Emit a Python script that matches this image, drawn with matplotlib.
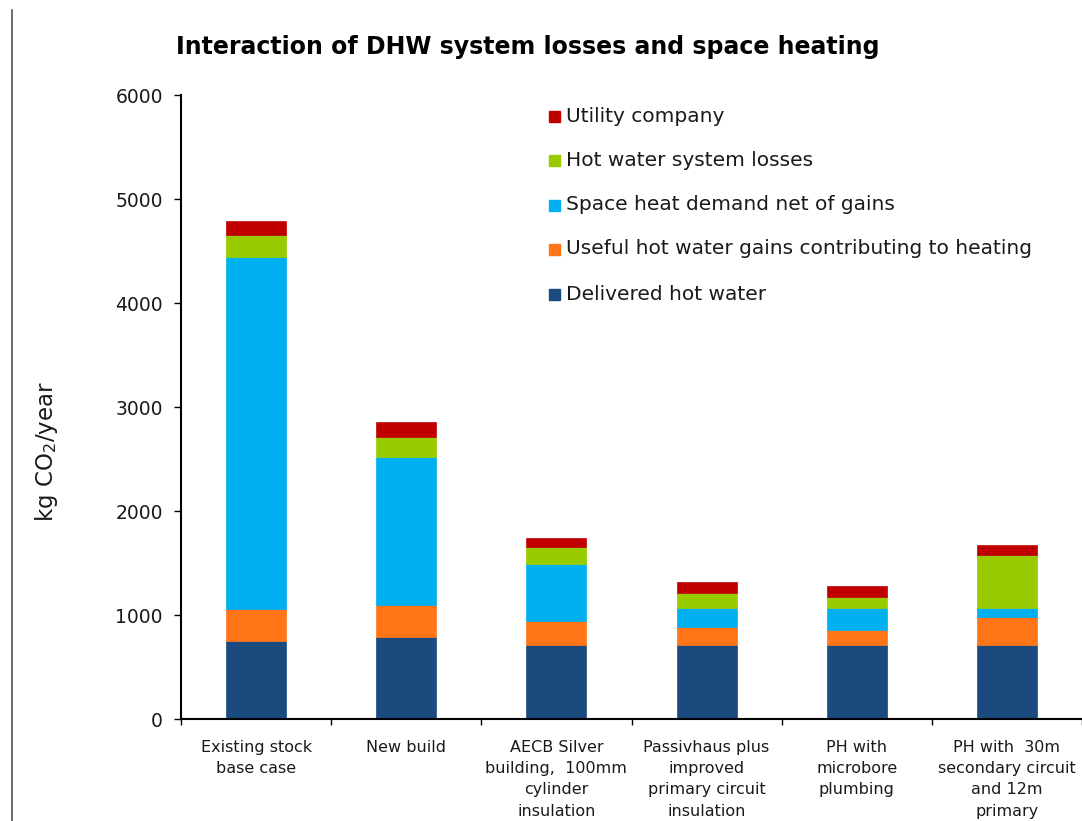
import matplotlib.pyplot as plt
import numpy as np
from matplotlib.lines import Line2D

plt.rcParams['font.family'] = ['DejaVu Sans']

categories = [
    "Existing stock\nbase case",
    "New build",
    "AECB Silver\nbuilding,  100mm\ncylinder\ninsulation",
    "Passivhaus plus\nimproved\nprimary circuit\ninsulation",
    "PH with\nmicrobore\nplumbing",
    "PH with  30m\nsecondary circuit\nand 12m\nprimary",
]

delivered_hot_water = [753, 788, 712, 712, 712, 712]
useful_gains = [302, 305, 230, 169, 141, 269]
space_heat = [3384, 1423, 552, 183, 211, 86]
hw_system_losses = [215, 198, 157, 151, 112, 510]
utility_company = [137, 139, 89, 102, 103, 93]

series = [
    ("Delivered hot water", delivered_hot_water, "#1a4a7e"),
    ("Useful hot water gains contributing to heating", useful_gains, "#ff7518"),
    ("Space heat demand net of gains", space_heat, "#00b0f0"),
    ("Hot water system losses", hw_system_losses, "#99cc00"),
    ("Utility company", utility_company, "#c00000"),
]

W, H = 1082, 821
fig = plt.figure(figsize=(W / 100, H / 100), dpi=100)
ax = fig.add_axes([181 / W, 1 - 719 / H, 901 / W, (719 - 95) / H])

x = np.arange(len(categories))
bottom = np.zeros(len(categories))
for name, vals, col in series:
    ax.bar(x, vals, width=0.4, bottom=bottom, color=col, edgecolor=col,
           linewidth=0.5)
    bottom += np.array(vals)

ax.set_xlim(-0.5, len(categories) - 0.5)
ax.set_ylim(0, 6000)
ax.set_yticks(range(0, 6001, 1000))
ax.tick_params(axis='y', labelsize=13.5, length=5, width=1, direction='out',
               pad=8, labelcolor='#1a1a1a')
ax.set_xticks(np.arange(-0.5, len(categories), 1.0))
ax.set_xticklabels([])
ax.tick_params(axis='x', length=4, width=1, direction='out')
for i, lab in enumerate(categories):
    ax.text(i, -200, lab, ha='center', va='top', fontsize=11.5,
            color='#1a1a1a', linespacing=1.52)

for s in ['top', 'right']:
    ax.spines[s].set_visible(False)
ax.spines['left'].set_linewidth(1.5)
ax.spines['bottom'].set_linewidth(1.5)

fig.text(46 / W, 1 - 452 / H, "kg CO$_2$/year", rotation=90, ha='center',
         va='center', fontsize=16.5, color='#1a1a1a')

fig.text(528 / W, 1 - 47 / H, "Interaction of DHW system losses and space heating",
         ha='center', va='center', fontsize=17, fontweight='bold')

# legend, top entry first
legend_y = [116, 160, 205, 249, 294]
for (name, vals, col), yy in zip(reversed(series), legend_y):
    fig.patches.append(plt.Rectangle((549 / W, 1 - (yy + 6) / H), 11 / W, 11 / H,
                                     transform=fig.transFigure, color=col))
    fig.text(566 / W, 1 - yy / H, name, ha='left', va='center', fontsize=14.5,
             color='#1a1a1a')

fig.add_artist(Line2D([12 / W, 12 / W], [0, 1 - 10 / H], color='#555555',
                      linewidth=1.2, transform=fig.transFigure))

fig.savefig("out.png", dpi=100)
